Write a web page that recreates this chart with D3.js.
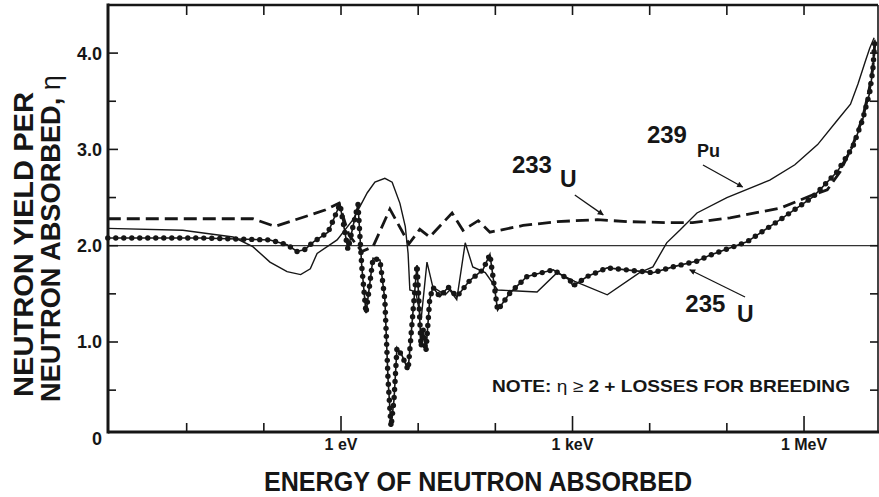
<!DOCTYPE html>
<html lang="en">
<head>
  <meta charset="UTF-8">
  <script src="https://d3js.org/d3.v7.min.js"></script>
  <title>Neutron yield per neutron absorbed</title>
  <style>
    body {
      margin: 0;
      background: #fff;
      font-family: "Liberation Sans", Arial, Helvetica, sans-serif;
      overflow: hidden;
    }
    text { fill: #161616; }
  </style>
</head>
<body>
<script>
  // η values, energy in eV
  const pu239Energy = [9.5e-4, 8.9e-3, 0.040, 0.072, 0.12, 0.20, 0.30, 0.40, 0.49, 0.89, 1.43, 2.19, 2.75, 3.7, 4.6,
    5.8, 6.8, 7.4, 7.8, 9.3, 10.9, 13.0, 15.5, 22.4, 25.7, 31.6, 40.7, 51, 74, 107, 347, 631, 1070, 2820, 7400,
    1.1e4, 1.66e4, 2.45e4, 4.1e4, 1.0e5, 3.6e5, 7.6e5, 1.5e6, 2.75e6, 4.0e6, 5.0e6, 6.2e6, 7.1e6, 8.1e6];
  const pu239Eta = [2.18, 2.16, 2.09, 1.99, 1.83, 1.73, 1.70, 1.76, 1.92, 2.06, 2.27, 2.55, 2.66, 2.70, 2.66,
    2.44, 2.20, 1.92, 1.54, 1.52, 1.23, 1.83, 1.57, 1.49, 1.54, 1.44, 2.03, 1.78, 1.72, 1.54, 1.52, 1.72, 1.63, 1.49, 1.72,
    1.78, 2.03, 2.16, 2.34, 2.50, 2.68, 2.84, 3.05, 3.31, 3.47, 3.68, 3.91, 4.05, 4.16];

  const u235Energy = [9.5e-4, 0.0148, 0.12, 0.20, 0.27, 0.34, 0.44, 0.68, 0.97, 1.23, 1.43, 1.66, 1.86, 2.11, 2.60,
    3.2, 3.7, 4.07, 4.45, 4.86, 5.31, 6.17, 7.41, 8.83, 9.66, 10.2, 10.9, 11.6, 12.6, 14.1, 15.5, 19.1, 24.5, 31.6,
    46.8, 69, 85, 107, 155, 257, 562, 933, 1010, 1550, 2820, 1.1e4, 2.0e4, 4.1e4, 6.0e4, 1.82e5, 4.9e5, 1.32e6,
    2.7e6, 4.3e6, 5.75e6, 7.1e6, 7.8e6, 8.3e6];
  const u235Eta = [2.08, 2.08, 2.06, 2.01, 1.94, 1.96, 2.04, 2.14, 2.43, 1.96, 2.20, 2.43, 1.78, 1.30, 1.87,
    1.85, 1.44, 0.61, 0.12, 0.40, 0.94, 0.86, 0.71, 1.44, 1.80, 1.44, 0.95, 1.13, 0.90, 1.44, 1.57, 1.47, 1.57, 1.47,
    1.64, 1.75, 1.91, 1.33, 1.51, 1.68, 1.75, 1.64, 1.58, 1.68, 1.77, 1.72, 1.78, 1.84, 1.90, 2.04, 2.27, 2.51,
    2.77, 3.03, 3.31, 3.59, 3.83, 4.14];

  const u233Energy = [9.5e-4, 0.072, 0.14, 0.62, 0.94, 1.27, 1.86, 2.60, 4.3, 7.6, 10.5, 14.1, 27.5, 38, 60, 85,
    229, 631, 2090, 5130, 1.66e4, 3.6e4, 1.1e5, 4.9e5, 1.32e6, 2.0e6, 2.95e6, 4.3e6, 5.75e6, 6.9e6, 7.8e6, 8.3e6];
  const u233Eta = [2.28, 2.28, 2.20, 2.37, 2.44, 2.11, 1.94, 1.99, 2.38, 2.02, 2.17, 2.09, 2.34, 2.16, 2.26, 2.14,
    2.21, 2.25, 2.27, 2.25, 2.24, 2.24, 2.29, 2.39, 2.53, 2.58, 2.77, 3.05, 3.33, 3.60, 3.85, 4.12];

  // axis ticks
  const yMajorTicks = [0, 1, 2, 3, 4];
  const yTickLabels = ["0", "1.0", "2.0", "3.0", "4.0"];
  const yMinorTicks = [0.5, 1.5, 2.5, 3.5];
  const xDecades = [1e-2, 1e-1, 1, 10, 100, 1e3, 1e4, 1e5, 1e6];
  const xLabelTicks = [1, 1e3, 1e6];
  const xTickLabels = ["1 eV", "1 keV", "1 MeV"];
  const breedingLine = 2;

  // isotope labels: [mass number, symbol, label energy, label eta, symbol energy, symbol eta, arrow from E, eta, arrow to E, eta]
  const isotopeLabels = [
    ["233", "U", 164, 2.755, 690, 2.61, 1070, 2.527, 2500, 2.32],
    ["239", "Pu", 9200, 3.066, 4.1e4, 2.92, 4.9e4, 2.838, 1.6e5, 2.61],
    ["235", "U", 2.9e4, 1.31, 1.35e5, 1.21, 1.72e5, 1.467, 3.3e4, 1.75]
  ];

  const width = 879, height = 497;
  const plot = { left: 108, right: 878, top: 5, bottom: 432 };

  const svg = d3.select("body").append("svg")
    .attr("width", width)
    .attr("height", height);

  const x = d3.scaleLog().domain([1e-3, 1e7]).range([109.5, 881.2]);
  const y = d3.scaleLinear().domain([0, 4.5]).range([438.3, 4.95]);

  const ink = "#161616";

  const line = d3.line()
    .x(d => x(d[0]))
    .y(d => y(d[1]));

  const pu = d3.zip(pu239Energy, pu239Eta);
  const u235 = d3.zip(u235Energy, u235Eta);
  const u233 = d3.zip(u233Energy, u233Eta);

  // eta = 2 reference line
  svg.append("line")
    .attr("x1", plot.left).attr("x2", plot.right)
    .attr("y1", y(breedingLine)).attr("y2", y(breedingLine))
    .attr("stroke", "#333").attr("stroke-width", 1.2);

  // 233U dashed
  svg.append("path")
    .datum(u233)
    .attr("d", line)
    .attr("fill", "none")
    .attr("stroke", ink)
    .attr("stroke-width", 2.8)
    .attr("stroke-dasharray", "13,6");

  // 239Pu solid
  svg.append("path")
    .datum(pu)
    .attr("d", line)
    .attr("fill", "none")
    .attr("stroke", ink)
    .attr("stroke-width", 1.4);

  // 235U line with beads
  const u235Path = svg.append("path")
    .datum(u235)
    .attr("d", line)
    .attr("fill", "none")
    .attr("stroke", ink)
    .attr("stroke-width", 1.6);

  const pathNode = u235Path.node();
  const total = pathNode.getTotalLength();
  const beads = d3.range(0, total, 8).map(l => pathNode.getPointAtLength(l));
  svg.append("g").selectAll("circle")
    .data(beads)
    .join("circle")
    .attr("cx", d => d.x)
    .attr("cy", d => d.y)
    .attr("r", 2.7)
    .attr("fill", ink);

  // frame
  const frame = svg.append("g").attr("stroke", ink).attr("fill", "none");
  frame.append("line").attr("x1", plot.left).attr("x2", plot.left).attr("y1", plot.top - 1.5).attr("y2", plot.bottom + 1.5).attr("stroke-width", 3);
  frame.append("line").attr("x1", plot.left).attr("x2", plot.right).attr("y1", plot.top).attr("y2", plot.top).attr("stroke-width", 2.6);
  frame.append("line").attr("x1", plot.left).attr("x2", plot.right + 1).attr("y1", plot.bottom).attr("y2", plot.bottom).attr("stroke-width", 3);
  frame.append("line").attr("x1", plot.right).attr("x2", plot.right).attr("y1", plot.top).attr("y2", plot.bottom).attr("stroke-width", 1.6);

  // x ticks, bottom (inward) and top (inward)
  frame.selectAll(".xb").data(xDecades).join("line")
    .attr("x1", d => x(d)).attr("x2", d => x(d))
    .attr("y1", plot.bottom)
    .attr("y2", d => plot.bottom - (xLabelTicks.includes(d) ? 16 : 9))
    .attr("stroke-width", 1.6);
  frame.selectAll(".xt").data(xDecades).join("line")
    .attr("x1", d => x(d)).attr("x2", d => x(d))
    .attr("y1", plot.top)
    .attr("y2", plot.top + 10)
    .attr("stroke-width", 1.6);

  // y ticks, left and right (inward)
  frame.selectAll(".yl").data(yMajorTicks.filter(d => d > 0).concat(yMinorTicks)).join("line")
    .attr("x1", plot.left).attr("x2", d => plot.left + (Number.isInteger(d) ? 10 : 8))
    .attr("y1", d => y(d)).attr("y2", d => y(d))
    .attr("stroke-width", 1.6);
  frame.selectAll(".yr").data(yMajorTicks.filter(d => d > 0).concat(yMinorTicks)).join("line")
    .attr("x1", plot.right).attr("x2", plot.right - 8)
    .attr("y1", d => y(d)).attr("y2", d => y(d))
    .attr("stroke-width", 1.6);

  // y tick labels
  svg.selectAll(".ylab").data(yMajorTicks).join("text")
    .attr("x", 102)
    .attr("y", d => y(d))
    .attr("dy", "0.36em")
    .attr("text-anchor", "end")
    .attr("font-size", 18)
    .attr("font-weight", "bold")
    .text((d, i) => yTickLabels[i]);

  // x tick labels
  svg.selectAll(".xlab").data(xLabelTicks).join("text")
    .attr("x", d => x(d))
    .attr("y", 450)
    .attr("text-anchor", "middle")
    .attr("font-size", 16)
    .attr("font-weight", "bold")
    .text((d, i) => xTickLabels[i]);

  // axis titles
  svg.append("text")
    .attr("x", 478).attr("y", 491)
    .attr("text-anchor", "middle")
    .attr("font-size", 27)
    .attr("font-weight", "bold")
    .attr("textLength", 428)
    .attr("lengthAdjust", "spacingAndGlyphs")
    .text("ENERGY OF NEUTRON ABSORBED");

  svg.append("text")
    .attr("transform", "translate(33,244.5) rotate(-90)")
    .attr("text-anchor", "middle")
    .attr("font-size", 27)
    .attr("font-weight", "bold")
    .attr("textLength", 305)
    .attr("lengthAdjust", "spacingAndGlyphs")
    .text("NEUTRON YIELD PER");

  const yt2 = svg.append("text")
    .attr("transform", "translate(60,238.5) rotate(-90)")
    .attr("text-anchor", "middle")
    .attr("font-size", 27)
    .attr("font-weight", "bold")
    .attr("textLength", 327)
    .attr("lengthAdjust", "spacingAndGlyphs");
  yt2.append("tspan").text("NEUTRON ABSORBED, ");
  yt2.append("tspan").attr("font-weight", "normal").text("η");

  // note
  const note = svg.append("text")
    .attr("x", 492).attr("y", 392)
    .attr("font-size", 17)
    .attr("font-weight", "bold")
    .attr("textLength", 358)
    .attr("lengthAdjust", "spacingAndGlyphs");
  note.append("tspan").text("NOTE:  ");
  note.append("tspan").attr("font-weight", "normal").text("η ≥ ");
  note.append("tspan").text("2 + LOSSES FOR BREEDING");

  // isotope labels with arrows
  svg.append("defs").append("marker")
    .attr("id", "head")
    .attr("viewBox", "0 0 10 10")
    .attr("refX", 9).attr("refY", 5)
    .attr("markerWidth", 8).attr("markerHeight", 6)
    .attr("markerUnits", "userSpaceOnUse")
    .attr("orient", "auto")
    .append("path")
    .attr("d", "M0,0 L10,5 L0,10 Z")
    .attr("fill", ink);

  const labels = svg.append("g");
  isotopeLabels.forEach(d => {
    labels.append("text")
      .attr("x", x(d[2])).attr("y", y(d[3]))
      .attr("font-size", 24).attr("font-weight", "bold")
      .text(d[0]);
    labels.append("text")
      .attr("x", x(d[4])).attr("y", y(d[5]))
      .attr("font-size", d[1] === "Pu" ? 18 : 23).attr("font-weight", "bold")
      .text(d[1]);
    labels.append("line")
      .attr("x1", x(d[6])).attr("y1", y(d[7]))
      .attr("x2", x(d[8])).attr("y2", y(d[9]))
      .attr("stroke", ink).attr("stroke-width", 1.3)
      .attr("marker-end", "url(#head)");
  });
</script>
</body>
</html>
